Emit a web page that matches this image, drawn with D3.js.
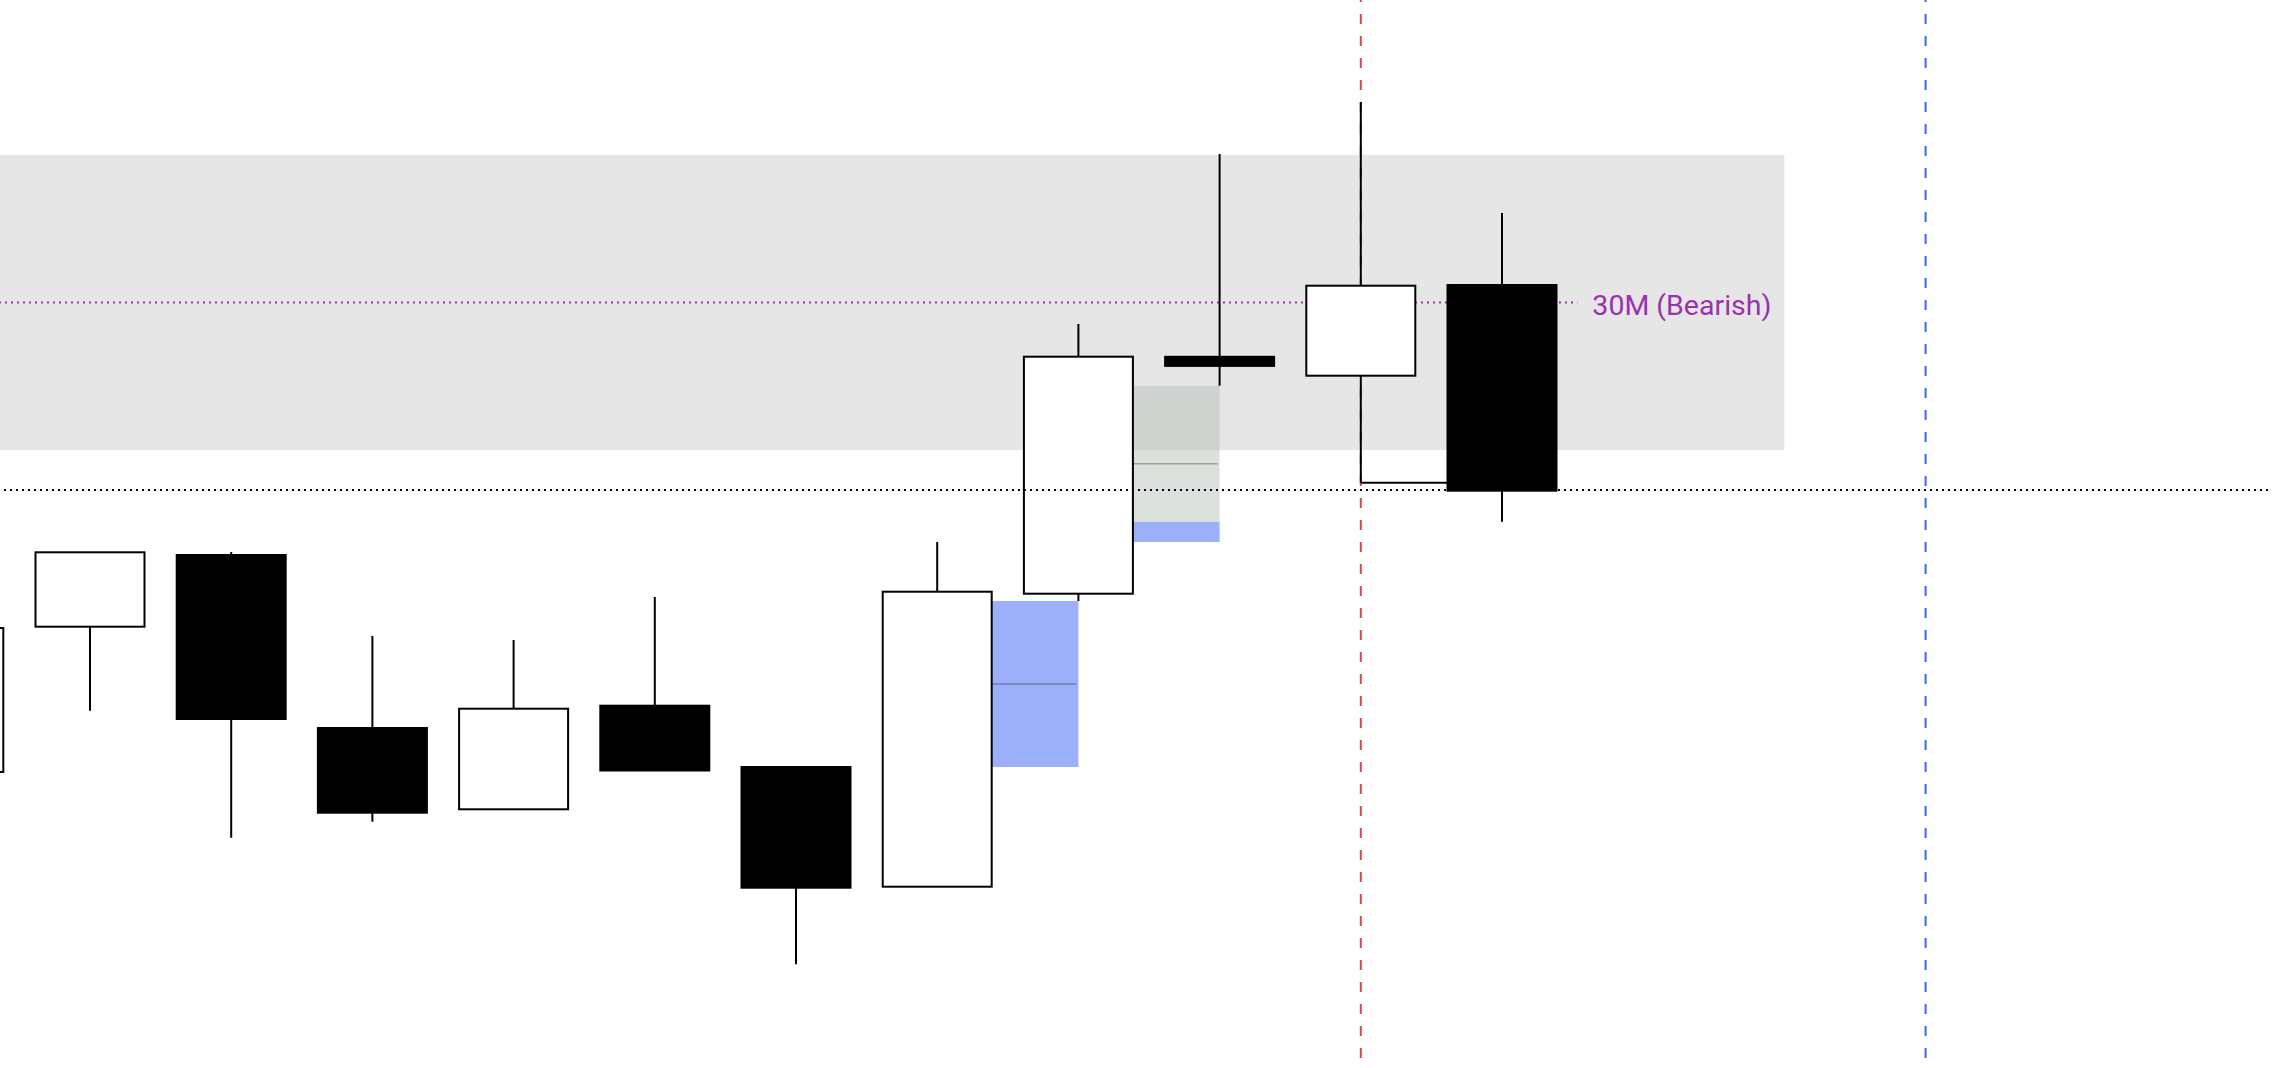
<!DOCTYPE html>
<html>
<head>
<meta charset="utf-8">
<script src="https://cdn.jsdelivr.net/npm/d3@7"></script>
<style>
  html, body { margin: 0; padding: 0; background: #ffffff; overflow: hidden; }
  svg { display: block; }
</style>
</head>
<body>
<script>
// ---------- DATA ----------
const candleIndex = [0, 1, 2, 3, 4, 5, 6, 7, 8, 9, 10, 11];
const opens  = [296.0, 441.3, 513.0, 340.0, 258.7, 362.3, 301.0, 181.3, 474.3, 711.2, 692.3, 783.0];
const highs  = [440.0, 515.7, 516.0, 432.0, 428.0, 471.0, 301.0, 526.0, 744.0, 914.0, 966.0, 855.0];
const lows   = [296.0, 357.3, 230.3, 246.3, 258.7, 297.5, 103.7, 181.3, 467.0, 682.3, 585.3, 546.3];
const closes = [440.0, 515.7, 349.0, 255.3, 359.3, 297.5, 180.3, 476.3, 711.3, 702.1, 782.3, 577.3];

// higher-timeframe zone
const zoneTop = 913;
const zoneBottom = 618;
const zoneStartIndex = -1;
const zoneEndIndex = 13;
const zoneLabel = "30M (Bearish)";

// fair value gaps (index of the middle candle)
const fvgMiddleIndex = [7, 8];

// horizontal level (black dotted)
const levelPrice = [578];

// sweep line: from candle 10 low to candle 11
const sweepFrom = [10];

// vertical session markers
const redLineIndex = [10];
const blueLineIndex = [14];

// ---------- LAYOUT ----------
const W = 2272, H = 1068;
const x = d3.scaleLinear().domain([1, 14]).range([90, 90 + 13 * 141.2]);
const y = d3.scaleLinear().domain([0, 1068]).range([1068, 0]);
const step = x(2) - x(1);
const bodyW = step * 0.786;

const svg = d3.select("body").append("svg")
  .attr("width", W).attr("height", H)
  .attr("viewBox", `0 0 ${W} ${H}`);

svg.append("rect").attr("width", W).attr("height", H).attr("fill", "#ffffff");

// zone
const zoneMid = (zoneTop + zoneBottom) / 2;
svg.append("rect")
  .attr("x", Math.max(0, x(zoneStartIndex)))
  .attr("y", y(zoneTop))
  .attr("width", x(zoneEndIndex) - Math.max(0, x(zoneStartIndex)))
  .attr("height", y(zoneBottom) - y(zoneTop))
  .attr("fill", "#e6e6e6");

const labelX = x(11.64);
svg.append("line")
  .attr("x1", Math.max(0, x(zoneStartIndex))).attr("x2", labelX - 15)
  .attr("y1", y(zoneMid)).attr("y2", y(zoneMid))
  .attr("stroke", "#9c2fb0").attr("stroke-width", 2)
  .attr("stroke-dasharray", "2,4").attr("stroke-dashoffset", 1);

svg.append("text")
  .attr("x", labelX).attr("y", y(zoneMid) + 12)
  .attr("font-family", "Roboto, 'Noto Sans', sans-serif")
  .attr("font-size", 28.5)
  .attr("fill", "#9a31ad")
  .text(zoneLabel);

// vertical dashed lines
svg.selectAll("line.red").data(redLineIndex).enter().append("line")
  .attr("x1", d => x(d)).attr("x2", d => x(d))
  .attr("y1", 0).attr("y2", H)
  .attr("stroke", "#de4450").attr("stroke-width", 2)
  .attr("stroke-dasharray", "10,12").attr("stroke-dashoffset", 8);

svg.selectAll("line.blue").data(blueLineIndex).enter().append("line")
  .attr("x1", d => x(d)).attr("x2", d => x(d))
  .attr("y1", 0).attr("y2", H)
  .attr("stroke", "#3a66f4").attr("stroke-width", 2)
  .attr("stroke-dasharray", "10,12").attr("stroke-dashoffset", 8);

// fair value gaps
fvgMiddleIndex.forEach(i => {
  const bottom = highs[i - 1];
  const top = lows[i + 1];
  let minLow = Infinity;
  for (let k = i + 2; k < lows.length; k++) minLow = Math.min(minLow, lows[k]);
  const mitigatedTo = Math.max(bottom, Math.min(top, minLow));
  const x0 = x(i), x1 = x(i + 1);
  svg.append("rect")
    .attr("x", x0).attr("width", x1 - x0)
    .attr("y", y(mitigatedTo)).attr("height", y(bottom) - y(mitigatedTo))
    .attr("fill", "#9bb0f8");
  if (mitigatedTo < top) {
    svg.append("rect")
      .attr("x", x0).attr("width", x1 - x0)
      .attr("y", y(top)).attr("height", y(mitigatedTo) - y(top))
      .attr("fill", "rgb(182,190,182)").attr("fill-opacity", 0.48);
  }
  const mid = (top + bottom) / 2;
  svg.append("line")
    .attr("x1", x0).attr("x2", x1 - 2)
    .attr("y1", y(mid)).attr("y2", y(mid))
    .attr("stroke", "#000").attr("stroke-opacity", 0.3).attr("stroke-width", 1.5);
});

// sweep line
sweepFrom.forEach(i => {
  svg.append("line")
    .attr("x1", x(i)).attr("x2", x(i + 1))
    .attr("y1", y(lows[i])).attr("y2", y(lows[i]))
    .attr("stroke", "#000").attr("stroke-width", 2);
});

// candles
const candles = candleIndex.map((d, i) => ({
  i: d, o: opens[i], h: highs[i], l: lows[i], c: closes[i]
}));

const g = svg.append("g");
g.selectAll("line.wick").data(candles).enter().append("line")
  .attr("x1", d => x(d.i)).attr("x2", d => x(d.i))
  .attr("y1", d => y(d.h)).attr("y2", d => y(d.l))
  .attr("stroke", "#000").attr("stroke-width", 2);

g.selectAll("rect.body").data(candles).enter().append("rect")
  .attr("x", d => x(d.i) - bodyW / 2 + 1)
  .attr("width", bodyW - 2)
  .attr("y", d => y(Math.max(d.o, d.c)))
  .attr("height", d => Math.max(1, Math.abs(y(d.o) - y(d.c))))
  .attr("fill", d => d.c >= d.o ? "#ffffff" : "#000000")
  .attr("stroke", "#000").attr("stroke-width", 2);

// black dotted level
svg.selectAll("line.level").data(levelPrice).enter().append("line")
  .attr("x1", 4).attr("x2", W)
  .attr("y1", d => y(d)).attr("y2", d => y(d))
  .attr("stroke", "#000").attr("stroke-width", 2)
  .attr("stroke-dasharray", "2,4");
</script>
</body>
</html>
